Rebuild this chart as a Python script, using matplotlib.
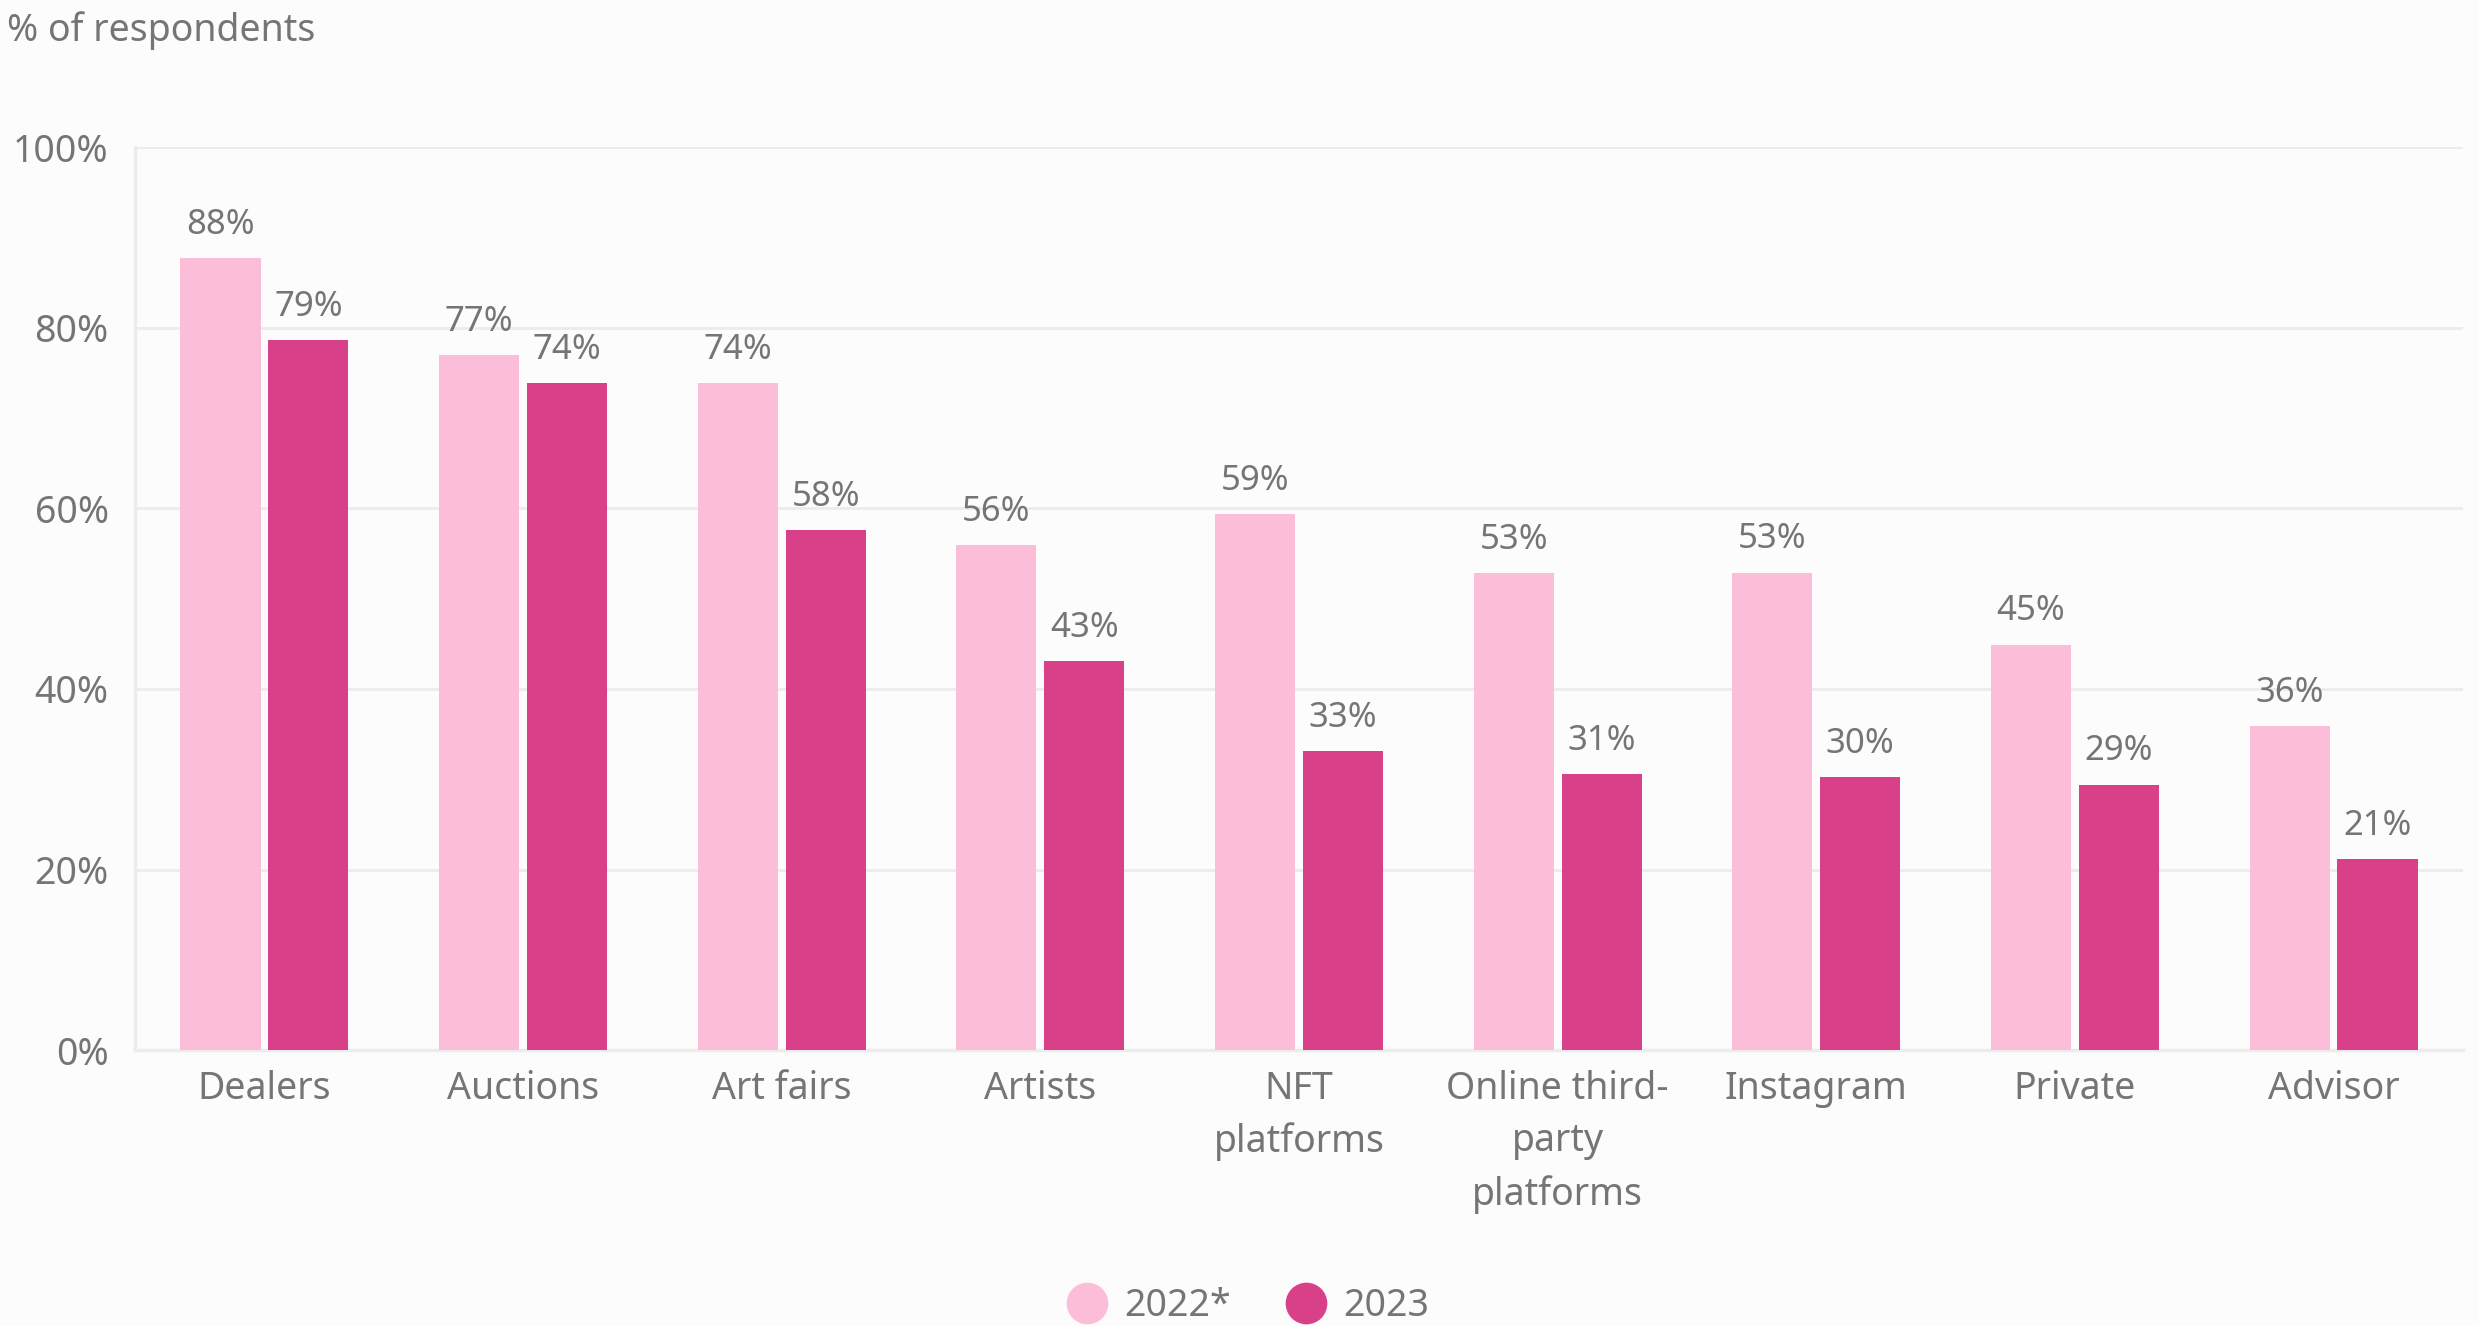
import numpy as np
import matplotlib.pyplot as plt
from matplotlib.lines import Line2D

categories = ['Dealers', 'Auctions', 'Art fairs', 'Artists', 'NFT\nplatforms',
              'Online third-\nparty\nplatforms', 'Instagram', 'Private', 'Advisor']
vals_2022 = [87.7, 77.0, 73.9, 55.9, 59.4, 52.8, 52.9, 44.9, 35.9]
vals_2023 = [78.6, 73.9, 57.6, 43.1, 33.1, 30.6, 30.2, 29.4, 21.2]
series_names = ['2022*', '2023']

light = '#fcbdd9'
dark = '#d8418a'
grey = '#757575'
grid = '#ececec'
bg = '#fcfcfc'

plt.rcParams['font.family'] = ['Noto Sans', 'DejaVu Sans']

fig = plt.figure(figsize=(24.79, 13.26), dpi=100, facecolor=bg)
ax = fig.add_axes([0.0545, 0.208, 0.939, 0.681], facecolor=bg)

x = np.arange(len(categories))
w = 0.31
b1 = ax.bar(x - 0.17, vals_2022, w, color=light, zorder=3)
b2 = ax.bar(x + 0.17, vals_2023, w, color=dark, zorder=3)

for bars, vals in [(b1, vals_2022), (b2, vals_2023)]:
    for r, v in zip(bars, vals):
        ax.text(r.get_x() + r.get_width() / 2, v + 1.8, f'{v:.0f}%',
                ha='center', va='bottom', fontsize=25, color=grey)

ax.set_xlim(-0.5, len(categories) - 0.5)
ax.set_ylim(0, 100)
ax.set_yticks(range(0, 101, 20))
ax.set_yticklabels([f'{t}%' for t in range(0, 101, 20)])
ax.set_xticks(x)
ax.set_xticklabels(categories, linespacing=1.5)
ax.tick_params(axis='y', length=0, pad=19, labelsize=27, labelcolor=grey)
ax.tick_params(axis='x', length=0, pad=14, labelsize=27, labelcolor=grey)
for t in ax.get_yticklabels():
    t.set_y(t.get_position()[1])
    t.set_va('center_baseline')
ax.yaxis.grid(True, color=grid, lw=2, zorder=0)
for s in ['top', 'right']:
    ax.spines[s].set_visible(False)
for s in ['left', 'bottom']:
    ax.spines[s].set_color(grid)
    ax.spines[s].set_linewidth(2.5)

fig.text(0.003, 0.977, '% of respondents', fontsize=27, color=grey, va='center', ha='left')

handles = [Line2D([], [], marker='o', ls='', markersize=29, color=c) for c in (light, dark)]
leg = fig.legend(handles, series_names, loc='center', bbox_to_anchor=(0.5, 0.015),
                 ncol=2, frameon=False, fontsize=27, handletextpad=0.0,
                 columnspacing=1.0, labelcolor=grey)

fig.savefig('out.png', dpi=100, facecolor=bg)
